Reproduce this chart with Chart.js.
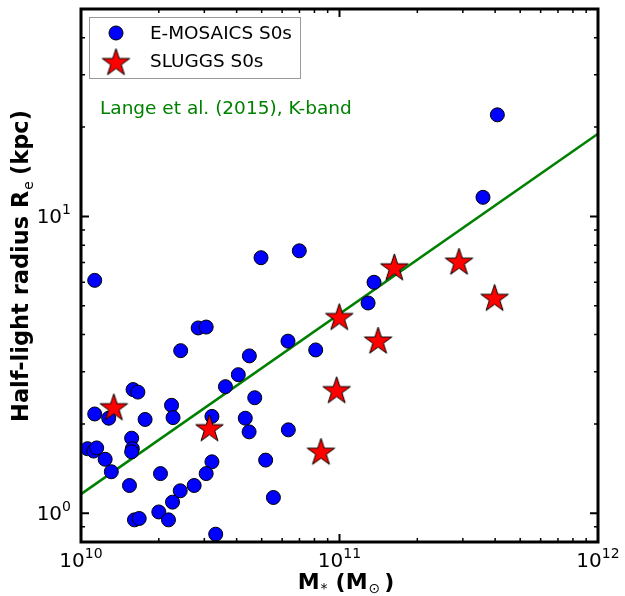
<!DOCTYPE html>
<html>
<head>
<meta charset="utf-8">
<script src="https://cdn.jsdelivr.net/npm/chart.js@4.4.0/dist/chart.umd.min.js"></script>
<style>
body { margin: 0; background: #fff; }
canvas { display: block; }
</style>
</head>
<body>
<canvas id="plot" width="625" height="596"></canvas>
<script>
// E-MOSAICS S0s (stellar mass in Msun, half-light radius in kpc)
const mosaicsMass = [1.13e10, 4.97e10, 6.99e10, 4.08e11, 3.59e11, 1.36e11, 1.29e11, 8.09e10, 6.32e10, 2.84e10,
    3.05e10, 2.43e10, 4.48e10, 4.06e10, 3.62e10, 4.70e10, 1.59e10, 1.66e10, 2.24e10, 1.13e10,
    1.28e10, 1.77e10, 2.27e10, 3.21e10, 4.32e10, 4.47e10, 6.34e10, 1.57e10, 1.58e10, 1.57e10,
    1.06e10, 1.12e10, 1.15e10, 1.24e10, 1.31e10, 1.54e10, 2.03e10, 3.21e10, 3.05e10, 2.74e10,
    2.42e10, 2.26e10, 2.00e10, 2.18e10, 1.61e10, 1.68e10, 3.32e10, 5.18e10, 5.55e10];
const mosaicsRe = [6.09, 7.26, 7.66, 22.0, 11.6, 6.00, 5.11, 3.55, 3.80, 4.21,
    4.24, 3.53, 3.39, 2.93, 2.67, 2.45, 2.61, 2.56, 2.31, 2.16,
    2.09, 2.07, 2.10, 2.12, 2.09, 1.88, 1.91, 1.79, 1.65, 1.61,
    1.65, 1.62, 1.66, 1.52, 1.38, 1.24, 1.36, 1.49, 1.36, 1.24,
    1.19, 1.09, 1.01, 0.95, 0.95, 0.96, 0.85, 1.51, 1.13];

// SLUGGS S0s
const sluggsMass = [1.34e10, 3.14e10, 8.48e10, 9.75e10, 9.98e10, 1.41e11, 1.63e11, 2.90e11, 3.98e11];
const sluggsRe = [2.26, 1.92, 1.60, 2.58, 4.55, 3.79, 6.69, 6.99, 5.28];

// Lange et al. (2015) K-band relation, end points
const langeMass = [1e10, 1e12];
const langeRe = [1.16, 19.0];

const xTicks = [1e10, 1e11, 1e12];
const xTickExp = ["10", "11", "12"];
const yTicks = [1, 10];
const yTickExp = ["0", "1"];

const FONT = '"DejaVu Sans", sans-serif';

function makeStar(r) {
    const c = document.createElement("canvas");
    const s = Math.ceil(r * 2 + 4);
    c.width = s; c.height = s;
    const g = c.getContext("2d");
    g.beginPath();
    for (let i = 0; i < 10; i++) {
        const rad = i % 2 === 0 ? r : r * 0.382;
        const a = -Math.PI / 2 + i * Math.PI / 5;
        g.lineTo(s / 2 + rad * Math.cos(a), s / 2 + rad * Math.sin(a));
    }
    g.closePath();
    g.fillStyle = "#ff0000";
    g.fill();
    g.lineWidth = 1;
    g.strokeStyle = "#000";
    g.stroke();
    return c;
}
const star = makeStar(14.5);

function toPoints(xs, ys) {
    return xs.map((x, i) => ({x: x, y: ys[i]}));
}

function drawPow(ctx, base, exp, x, y, align) {
    ctx.font = "20px " + FONT;
    const wb = ctx.measureText(base).width;
    ctx.font = "14px " + FONT;
    const we = ctx.measureText(exp).width;
    const left = align === "center" ? x - (wb + we) / 2 : x - wb - we;
    ctx.textAlign = "left";
    ctx.textBaseline = "alphabetic";
    ctx.font = "20px " + FONT;
    ctx.fillText(base, left, y);
    ctx.font = "14px " + FONT;
    ctx.fillText(exp, left + wb, y - 9);
}

// pieces = [text, font, dy, gap after]
function drawPieces(ctx, pieces, x, y) {
    let w = 0;
    pieces.forEach(p => { ctx.font = p[1]; w += ctx.measureText(p[0]).width + p[3]; });
    let cx = x - w / 2;
    ctx.textAlign = "left";
    ctx.textBaseline = "alphabetic";
    pieces.forEach(p => {
        ctx.font = p[1];
        ctx.fillText(p[0], cx, y + p[2]);
        cx += ctx.measureText(p[0]).width + p[3];
    });
}

const decor = {
    id: "decor",
    afterDatasetsDraw(chart) {
        const ctx = chart.ctx;
        const a = chart.chartArea;
        const xs = chart.scales.x, ys = chart.scales.y;
        ctx.save();
        ctx.strokeStyle = "#000";
        ctx.fillStyle = "#000";

        // ticks, all four sides, pointing in
        function tick(px, len, w, vertical) {
            ctx.lineWidth = w;
            ctx.beginPath();
            if (vertical) {
                ctx.moveTo(px, a.bottom); ctx.lineTo(px, a.bottom - len);
                ctx.moveTo(px, a.top); ctx.lineTo(px, a.top + len);
            } else {
                ctx.moveTo(a.left, px); ctx.lineTo(a.left + len, px);
                ctx.moveTo(a.right, px); ctx.lineTo(a.right - len, px);
            }
            ctx.stroke();
        }
        for (let d = 1e10; d < 1e12; d *= 10) {
            for (let k = 2; k <= 9; k++) tick(xs.getPixelForValue(d * k), 4, 1.5, true);
        }
        xTicks.forEach(v => tick(xs.getPixelForValue(v), 8, 2, true));
        for (let d = 0.1; d < 100; d *= 10) {
            for (let k = 2; k <= 9; k++) {
                const v = d * k;
                if (v > ys.min && v < ys.max) tick(ys.getPixelForValue(v), 4, 1.5, false);
            }
        }
        yTicks.forEach(v => tick(ys.getPixelForValue(v), 8, 2, false));

        // frame
        ctx.lineWidth = 3;
        ctx.strokeRect(a.left, a.top, a.right - a.left, a.bottom - a.top);

        // tick labels
        xTicks.forEach((v, i) => drawPow(ctx, "10", xTickExp[i], xs.getPixelForValue(v), a.bottom + 25, "center"));
        yTicks.forEach((v, i) => drawPow(ctx, "10", yTickExp[i], 71, ys.getPixelForValue(v) + 7, "right"));

        // axis titles
        const bold = "bold 22px " + FONT;
        const sub = "14px " + FONT;
        drawPieces(ctx, [["M", bold, 0, 1], ["*", sub, 4, 8], ["(M", bold, 0, 1], ["\u2299", sub, 4, 4], [")", bold, 0, 0]],
            346, 589);
        ctx.save();
        ctx.translate(28, 266);
        ctx.rotate(-Math.PI / 2);
        drawPieces(ctx, [["Half-light radius R", "bold 22.5px " + FONT, 0, 1], ["e", sub, 5, 6], ["(kpc)", "bold 22.5px " + FONT, 0, 0]], 0, 0);
        ctx.restore();

        // annotation
        ctx.fillStyle = "#008000";
        ctx.font = "18.5px " + FONT;
        ctx.textAlign = "left";
        ctx.textBaseline = "middle";
        ctx.fillText("Lange et al. (2015), K-band", 100, 109);

        // legend
        ctx.fillStyle = "#fff";
        ctx.fillRect(89.5, 17.5, 211, 61);
        ctx.lineWidth = 1;
        ctx.strokeStyle = "#999";
        ctx.strokeRect(89.5, 17.5, 211, 61);
        ctx.beginPath();
        ctx.arc(116, 33, 7, 0, Math.PI * 2);
        ctx.fillStyle = "#0000ff";
        ctx.fill();
        ctx.strokeStyle = "#000";
        ctx.stroke();
        ctx.drawImage(star, 116 - star.width / 2, 63 - star.height / 2);
        ctx.fillStyle = "#000";
        ctx.font = "18.4px " + FONT;
        ctx.fillText("E-MOSAICS S0s", 150, 34);
        ctx.fillText("SLUGGS S0s", 150, 62);
        ctx.restore();
    }
};

new Chart(document.getElementById("plot"), {
    type: "scatter",
    data: {
        datasets: [
            {
                label: "SLUGGS S0s",
                data: toPoints(sluggsMass, sluggsRe),
                pointStyle: star,
                order: 0
            },
            {
                label: "E-MOSAICS S0s",
                data: toPoints(mosaicsMass, mosaicsRe),
                pointStyle: "circle",
                pointRadius: 7,
                backgroundColor: "#0000ff",
                borderColor: "#000",
                borderWidth: 1,
                order: 1
            },
            {
                label: "Lange et al. (2015), K-band",
                data: toPoints(langeMass, langeRe),
                showLine: true,
                pointRadius: 0,
                borderColor: "#008000",
                borderWidth: 2.5,
                order: 2
            }
        ]
    },
    options: {
        responsive: false,
        animation: false,
        layout: {padding: {left: 81, right: 27, top: 9, bottom: 54}},
        scales: {
            x: {type: "logarithmic", min: 1e10, max: 1e12, display: false},
            y: {type: "logarithmic", min: 0.8, max: 50, display: false}
        },
        plugins: {legend: {display: false}, tooltip: {enabled: false}}
    },
    plugins: [decor]
});
</script>
</body>
</html>
